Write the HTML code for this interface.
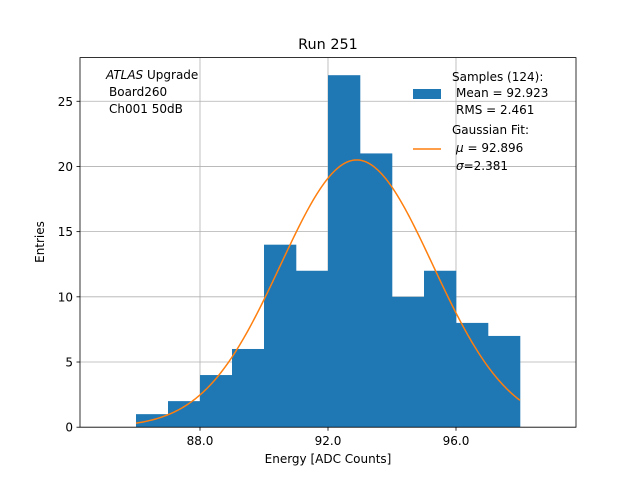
<!DOCTYPE html>
<html><head><meta charset="utf-8"><style>
body{margin:0;background:#fff}
svg text{font-family:"DejaVu Sans","Liberation Sans",sans-serif;fill:#000}
</style></head><body>
<svg id="c" width="640" height="480" xmlns="http://www.w3.org/2000/svg">
<rect width="640" height="480" fill="#fff"/>
<g id="grid"></g><g id="bars"></g><g id="fit"></g><g id="axes"></g>
<text x="328" y="49" font-size="14.4" text-anchor="middle">Run 251</text>
<text x="328" y="463" font-size="12" text-anchor="middle">Energy [ADC Counts]</text>
<text transform="translate(44,242) rotate(-90)" font-size="12" text-anchor="middle">Entries</text>
<g font-size="12">
<text x="106" y="79"><tspan font-style="italic">ATLAS</tspan> Upgrade</text>
<text x="109" y="96">Board260</text>
<text x="109" y="113">Ch001 50dB</text>
</g>
<g font-size="12">
<rect x="413" y="89" width="28" height="10" fill="#1f77b4"/>
<text x="452" y="81">Samples (124):</text>
<text x="456" y="97">Mean = 92.923</text>
<text x="456" y="114">RMS = 2.461</text>
<line x1="413" y1="149" x2="441" y2="149" stroke="#ff7f0e" stroke-width="1.5"/>
<text x="452" y="134">Gaussian Fit:</text>
<text x="456" y="152"><tspan font-style="italic">μ</tspan> = 92.896</text>
<text x="456" y="170"><tspan font-style="italic">σ</tspan>=2.381</text>
</g>
</svg>
<script>
const binEdges=[86,87,88,89,90,91,92,93,94,95,96,97,98];
const counts=[1,2,4,6,14,12,27,21,10,12,8,7];
const xTicks=[88,92,96];
const xTickLabels=["88.0","92.0","96.0"];
const yTicks=[0,5,10,15,20,25];
const fitMu=92.896, fitSigma=2.381, fitAmp=20.5;
const L=80,R=576,T=57.6,B=427.2,xmin=84.25,xmax=99.75,ymin=0,ymax=28.35;
const X=v=>L+(v-xmin)/(xmax-xmin)*(R-L);
const Y=v=>B-(v-ymin)/(ymax-ymin)*(B-T);
const NS="http://www.w3.org/2000/svg";
function mk(t,a,p){const e=document.createElementNS(NS,t);for(const k in a)e.setAttribute(k,a[k]);p.appendChild(e);return e;}
const grid=document.getElementById('grid'),bars=document.getElementById('bars'),fit=document.getElementById('fit'),axes=document.getElementById('axes');
xTicks.forEach((t,i)=>{
 const g=mk('line',{x1:X(t),x2:X(t),y1:T,y2:B,stroke:'#b0b0b0','stroke-width':0.8},grid);
 
 
 mk('line',{x1:X(t),x2:X(t),y1:B,y2:B+3.5,stroke:'#000','stroke-width':0.8},axes);
 const tx=mk('text',{x:X(t),y:B+18,'font-size':12,'text-anchor':'middle'},axes);
 tx.textContent=xTickLabels[i];
 
 
});
yTicks.forEach(t=>{
 const g=mk('line',{x1:L,x2:R,y1:Y(t),y2:Y(t),stroke:'#b0b0b0','stroke-width':0.8},grid);
 
 
 mk('line',{x1:L-3.5,x2:L,y1:Y(t),y2:Y(t),stroke:'#000','stroke-width':0.8},axes);
 const tx=mk('text',{x:L-7,y:Y(t)+4.5,'font-size':12,'text-anchor':'end'},axes);
 tx.textContent=t;
 
 
});
counts.forEach((c,i)=>{
 const x0=X(binEdges[i]),x1=X(binEdges[i+1]);
 const r=mk('rect',{x:x0,y:Y(c),width:x1-x0+0.3,height:B-Y(c),fill:'#1f77b4'},bars);
 
 
});
let d='';
for(let i=0;i<=200;i++){const x=binEdges[0]+(binEdges[binEdges.length-1]-binEdges[0])*i/200;
 const y=fitAmp*Math.exp(-0.5*((x-fitMu)/fitSigma)**2);d+=(i?'L':'M')+X(x).toFixed(2)+','+Y(y).toFixed(2);}
const p=mk('path',{d:d,fill:'none',stroke:'#ff7f0e','stroke-width':1.5},fit);


const f=mk('rect',{x:L,y:T,width:R-L,height:B-T,fill:'none',stroke:'#000','stroke-width':0.8},axes);


</script>
</body></html>
